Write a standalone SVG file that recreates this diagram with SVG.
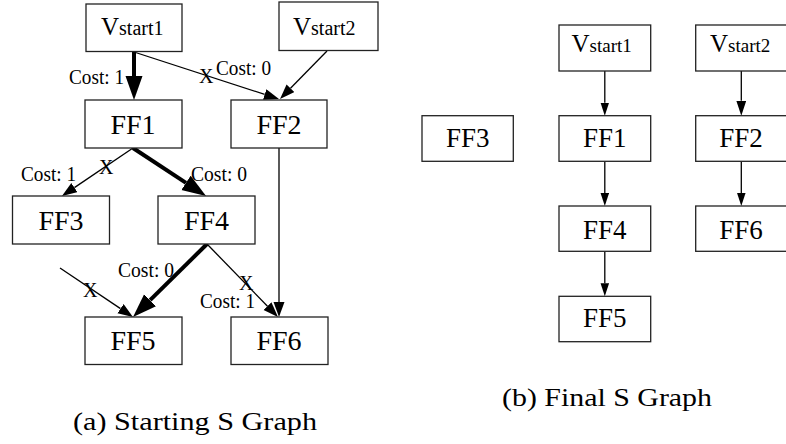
<svg xmlns="http://www.w3.org/2000/svg" width="786" height="444" viewBox="0 0 786 444">
  <style>
    .box { fill: #fff; stroke: #222; stroke-width: 1.3; }
    .lbl { font-family: "Liberation Serif", "Times New Roman", serif; fill: #000; }
    .node { font-size: 28px; text-anchor: middle; }
    .nodeR { font-size: 27px; text-anchor: middle; }
    .cost { font-size: 20px; }
    .cap { font-size: 26px; }
    .thin { fill: none; stroke: #000; stroke-width: 1.3; }
    .thick { fill: none; stroke: #000; stroke-width: 4; }
  </style>
  <defs>
    <marker id="arrowThin" markerUnits="userSpaceOnUse" markerWidth="16" markerHeight="12" refX="0" refY="5.5" orient="auto">
      <path d="M0,0 L15,5.5 L0,11 Z" fill="#000"/>
    </marker>
    <marker id="arrowThick" markerUnits="userSpaceOnUse" markerWidth="25" markerHeight="18" refX="0" refY="8.5" orient="auto">
      <path d="M0,0 L24,8.5 L0,17 Z" fill="#000"/>
    </marker>
    <marker id="arrowSmall" markerUnits="userSpaceOnUse" markerWidth="14" markerHeight="9" refX="0" refY="4.25" orient="auto">
      <path d="M0,0 L13,4.25 L0,8.5 Z" fill="#000"/>
    </marker>
    <marker id="arrowMid" markerUnits="userSpaceOnUse" markerWidth="16" markerHeight="11" refX="0" refY="5" orient="auto">
      <path d="M0,0 L15,5 L0,10 Z" fill="#000"/>
    </marker>
  </defs>

  <!-- (a) starting graph: connectors -->
  <g id="edges-a">
    <path class="thick" d="M134,52 L134,76" marker-end="url(#arrowThick)"/>
    <path class="thin" d="M134,52 L264.7,94.4" marker-end="url(#arrowThin)"/>
    <path class="thin" d="M327,51 L290.5,88.3" marker-end="url(#arrowThin)"/>
    <path class="thin" d="M133,148 L74.4,187.6" marker-end="url(#arrowThin)"/>
    <path class="thick" d="M133,148 L186,182.8" marker-end="url(#arrowThick)"/>
    <path class="thick" d="M207,244 L150.1,300.2" marker-end="url(#arrowThick)"/>
    <path class="thin" d="M207,244 L267.5,306.2" marker-end="url(#arrowThin)"/>
    <path class="thin" d="M279,148 L279,302" marker-end="url(#arrowThin)"/>
    <path class="thin" d="M60,268 L120.5,308.6" marker-end="url(#arrowThin)"/>
  </g>

  <!-- (a) edge labels -->
  <g id="edge-labels-a" class="lbl cost">
    <text x="69" y="84" textLength="55" lengthAdjust="spacingAndGlyphs">Cost: 1</text>
    <text x="199" y="83">X</text>
    <text x="216" y="75" textLength="55" lengthAdjust="spacingAndGlyphs">Cost: 0</text>
    <text x="21" y="181" textLength="55" lengthAdjust="spacingAndGlyphs">Cost: 1</text>
    <text x="99" y="174">X</text>
    <text x="191" y="181" textLength="56" lengthAdjust="spacingAndGlyphs">Cost: 0</text>
    <text x="118" y="277" textLength="56" lengthAdjust="spacingAndGlyphs">Cost: 0</text>
    <text x="239" y="290">X</text>
    <text x="200" y="308" textLength="55" lengthAdjust="spacingAndGlyphs">Cost: 1</text>
    <text x="83" y="296.5">X</text>
  </g>

  <!-- (a) nodes -->
  <g id="a-vstart1">
    <rect class="box" x="86" y="4" width="96" height="47.5"/>
    <text class="lbl" x="101" y="35" font-size="25">V<tspan font-size="20">start1</tspan></text>
  </g>
  <g id="a-vstart2">
    <rect class="box" x="279" y="2" width="99" height="48.5"/>
    <text class="lbl" x="293" y="35" font-size="25">V<tspan font-size="20">start2</tspan></text>
  </g>
  <g id="a-ff1">
    <rect class="box" x="85" y="100" width="97" height="48"/>
    <text class="lbl node" x="133" y="134">FF1</text>
  </g>
  <g id="a-ff2">
    <rect class="box" x="231" y="100" width="96" height="48"/>
    <text class="lbl node" x="279" y="134">FF2</text>
  </g>
  <g id="a-ff3">
    <rect class="box" x="12.5" y="196" width="97" height="48"/>
    <text class="lbl node" x="61" y="230">FF3</text>
  </g>
  <g id="a-ff4">
    <rect class="box" x="158" y="196" width="97" height="48"/>
    <text class="lbl node" x="206.5" y="230">FF4</text>
  </g>
  <g id="a-ff5">
    <rect class="box" x="85" y="317" width="97" height="47.5"/>
    <text class="lbl node" x="133" y="350">FF5</text>
  </g>
  <g id="a-ff6">
    <rect class="box" x="231" y="317" width="97" height="47.5"/>
    <text class="lbl node" x="279" y="350">FF6</text>
  </g>

  <!-- (b) final graph: connectors -->
  <g id="edges-b">
    <path class="thin" d="M604.8,71 L604.8,102.7" marker-end="url(#arrowSmall)"/>
    <path class="thin" d="M604.8,161.5 L604.8,193" marker-end="url(#arrowSmall)"/>
    <path class="thin" d="M604.8,251.5 L604.8,283.3" marker-end="url(#arrowSmall)"/>
    <path class="thin" d="M741.3,71 L741.3,100.7" marker-end="url(#arrowMid)"/>
    <path class="thin" d="M741.3,161.5 L741.3,193" marker-end="url(#arrowSmall)"/>
  </g>

  <!-- (b) nodes -->
  <g id="b-vstart1">
    <rect class="box" x="559" y="25" width="91.7" height="46"/>
    <text class="lbl" x="571.5" y="52" font-size="25">V<tspan font-size="19">start1</tspan></text>
  </g>
  <g id="b-vstart2">
    <rect class="box" x="695.7" y="25" width="95" height="46"/>
    <text class="lbl" x="710" y="52" font-size="25">V<tspan font-size="19">start2</tspan></text>
  </g>
  <g id="b-ff3">
    <rect class="box" x="422" y="115.7" width="91.3" height="45.6"/>
    <text class="lbl nodeR" x="467.7" y="146.7">FF3</text>
  </g>
  <g id="b-ff1">
    <rect class="box" x="559" y="115.7" width="91.7" height="45.6"/>
    <text class="lbl nodeR" x="604.8" y="146.7">FF1</text>
  </g>
  <g id="b-ff2">
    <rect class="box" x="695.7" y="115.7" width="95" height="45.6"/>
    <text class="lbl nodeR" x="741" y="146.7">FF2</text>
  </g>
  <g id="b-ff4">
    <rect class="box" x="559" y="206" width="91.7" height="45.3"/>
    <text class="lbl nodeR" x="604.8" y="239.3">FF4</text>
  </g>
  <g id="b-ff6">
    <rect class="box" x="695.7" y="206" width="95" height="45.3"/>
    <text class="lbl nodeR" x="741" y="239.3">FF6</text>
  </g>
  <g id="b-ff5">
    <rect class="box" x="559" y="296.3" width="91.7" height="45.4"/>
    <text class="lbl nodeR" x="604.8" y="327.3">FF5</text>
  </g>

  <!-- captions -->
  <g id="captions" class="lbl cap">
    <text x="73" y="430" textLength="244" lengthAdjust="spacingAndGlyphs">(a) Starting S Graph</text>
    <text x="502" y="406" textLength="210" lengthAdjust="spacingAndGlyphs">(b) Final S Graph</text>
  </g>
</svg>
